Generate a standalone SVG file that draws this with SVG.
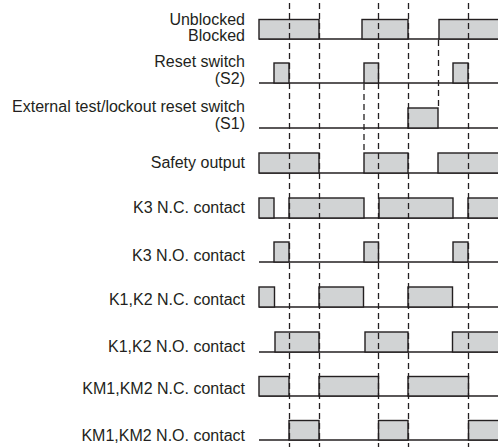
<svg xmlns="http://www.w3.org/2000/svg" width="498" height="447" viewBox="0 0 498 447">
<style>
.lbl{font-family:"Liberation Sans",Arial,sans-serif;font-size:16px;fill:#231f20;text-anchor:end}
.sig{fill:#d1d3d4;stroke:#231f20;stroke-width:1.4}
.base{stroke:#231f20;stroke-width:1.4;fill:none}
.dash{stroke:#231f20;stroke-width:1.3;stroke-dasharray:6 4;fill:none}
</style>
<rect width="498" height="447" fill="#fff"/>
<g id="row-unblocked">
<text class="lbl" x="245" y="25">Unblocked</text>
<text class="lbl" x="245" y="41">Blocked</text>
<line class="base" x1="259" y1="39" x2="498" y2="39"/>
<rect class="sig" x="259" y="19.5" width="60" height="19.5"/>
<rect class="sig" x="362" y="19.5" width="46" height="19.5"/>
<rect class="sig" x="439" y="19.5" width="60" height="19.5"/>
</g>
<g id="row-s2">
<text class="lbl" x="245" y="67">Reset switch</text>
<text class="lbl" x="245" y="84">(S2)</text>
<line class="base" x1="259" y1="83" x2="498" y2="83"/>
<rect class="sig" x="274" y="63" width="15" height="20"/>
<rect class="sig" x="364" y="63" width="14.5" height="20"/>
<rect class="sig" x="453" y="63" width="15" height="20"/>
</g>
<g id="row-s1">
<text class="lbl" x="245" y="112">External test/lockout reset switch</text>
<text class="lbl" x="245" y="129">(S1)</text>
<line class="base" x1="259" y1="128" x2="498" y2="128"/>
<rect class="sig" x="408" y="108" width="30" height="20"/>
</g>
<g id="row-safety">
<text class="lbl" x="245" y="168">Safety output</text>
<line class="base" x1="259" y1="173" x2="498" y2="173"/>
<rect class="sig" x="259" y="153" width="60" height="20"/>
<rect class="sig" x="364" y="153" width="44" height="20"/>
<rect class="sig" x="438" y="153" width="61" height="20"/>
</g>
<g id="row-k3nc">
<text class="lbl" x="245" y="213">K3 N.C. contact</text>
<line class="base" x1="259" y1="218" x2="498" y2="218"/>
<rect class="sig" x="259" y="198" width="15" height="20"/>
<rect class="sig" x="289" y="198" width="75" height="20"/>
<rect class="sig" x="379" y="198" width="74" height="20"/>
<rect class="sig" x="468" y="198" width="31" height="20"/>
</g>
<g id="row-k3no">
<text class="lbl" x="245" y="261">K3 N.O. contact</text>
<line class="base" x1="259" y1="262" x2="498" y2="262"/>
<rect class="sig" x="274" y="242" width="15" height="20"/>
<rect class="sig" x="364" y="242" width="14.5" height="20"/>
<rect class="sig" x="453" y="242" width="15" height="20"/>
</g>
<g id="row-k12nc">
<text class="lbl" x="245" y="305">K1,K2 N.C. contact</text>
<line class="base" x1="259" y1="307" x2="498" y2="307"/>
<rect class="sig" x="259" y="287" width="15.5" height="20"/>
<rect class="sig" x="319" y="287" width="44.5" height="20"/>
<rect class="sig" x="408" y="287" width="44.5" height="20"/>
</g>
<g id="row-k12no">
<text class="lbl" x="245" y="352">K1,K2 N.O. contact</text>
<line class="base" x1="259" y1="352" x2="498" y2="352"/>
<rect class="sig" x="275" y="332" width="44" height="20"/>
<rect class="sig" x="365" y="332" width="43" height="20"/>
<rect class="sig" x="452.5" y="332" width="46.5" height="20"/>
</g>
<g id="row-kmnc">
<text class="lbl" x="245" y="394">KM1,KM2 N.C. contact</text>
<line class="base" x1="259" y1="396" x2="498" y2="396"/>
<rect class="sig" x="259" y="376.5" width="30" height="19.5"/>
<rect class="sig" x="319" y="376.5" width="59.5" height="19.5"/>
<rect class="sig" x="408" y="376.5" width="60.5" height="19.5"/>
</g>
<g id="row-kmno">
<text class="lbl" x="245" y="441">KM1,KM2 N.O. contact</text>
<line class="base" x1="259" y1="440" x2="498" y2="440"/>
<rect class="sig" x="289" y="420.5" width="30" height="19.5"/>
<rect class="sig" x="378.5" y="420.5" width="29.5" height="19.5"/>
<rect class="sig" x="468.5" y="420.5" width="30.5" height="19.5"/>
</g>
<g id="connectors">
<line class="dash" x1="289.5" y1="3" x2="289.5" y2="447"/>
<line class="dash" x1="319.5" y1="3" x2="319.5" y2="447"/>
<line class="dash" x1="364" y1="84" x2="364" y2="153"/>
<line class="dash" x1="378.5" y1="3" x2="378.5" y2="447"/>
<line class="dash" x1="408.5" y1="3" x2="408.5" y2="447"/>
<line class="dash" x1="438.5" y1="40" x2="438.5" y2="108"/>
<line class="dash" x1="468.5" y1="3" x2="468.5" y2="447"/>
</g>
</svg>
